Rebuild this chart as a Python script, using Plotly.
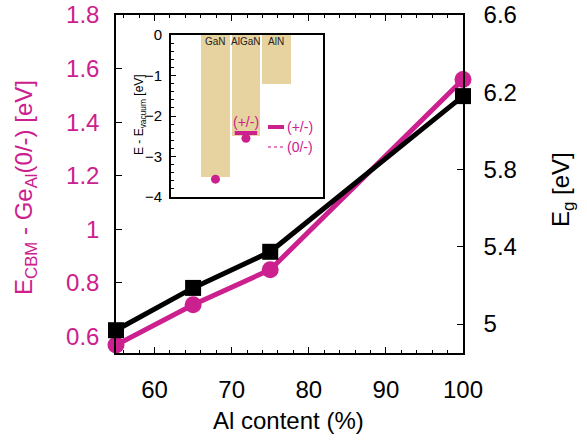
import plotly.graph_objects as go

# ---- main data ----
al_content = [55, 65, 75, 100]
e_cbm_minus_ge = [0.568, 0.718, 0.849, 1.559]   # left axis (magenta)
band_gap = [4.968, 5.187, 5.374, 6.18]            # right axis (black)

x_ticks = [60, 70, 80, 90, 100]
left_ticks = [0.6, 0.8, 1.0, 1.2, 1.4, 1.6, 1.8]
left_labels = ["0.6", "0.8", "1", "1.2", "1.4", "1.6", "1.8"]
right_ticks = [5.0, 5.4, 5.8, 6.2, 6.6]
right_labels = ["5", "5.4", "5.8", "6.2", "6.6"]

# ---- inset data ----
materials = ["GaN", "AlGaN", "AlN"]
mat_pos = [1, 2, 3]
cbm_vs_vacuum = [-3.5, -2.5, -1.2]
ge_level_pos = [1, 2]
ge_level_0m = [-3.56, -2.55]
ge_level_pm_pos = [2]
ge_level_pm = [-2.42]
inset_ticks = [0, -1, -2, -3, -4]

MAG = "#cc208e"
TAN = "#e6d3a0"
FONT = "Liberation Sans, Arial, sans-serif"

fig = go.Figure()

fig.add_trace(go.Scatter(
    x=al_content, y=e_cbm_minus_ge, mode="lines+markers",
    line=dict(color=MAG, width=5),
    marker=dict(symbol="circle", size=17, color=MAG),
    cliponaxis=False, xaxis="x", yaxis="y", showlegend=False))

fig.add_trace(go.Scatter(
    x=al_content, y=band_gap, mode="lines+markers",
    line=dict(color="black", width=5),
    marker=dict(symbol="square", size=16, color="black"),
    cliponaxis=False, xaxis="x", yaxis="y2", showlegend=False))

# inset bars
fig.add_trace(go.Bar(
    x=mat_pos, y=cbm_vs_vacuum, width=0.94, marker=dict(color=TAN, line=dict(width=0)),
    xaxis="x2", yaxis="y3", showlegend=False))

fig.add_trace(go.Scatter(
    x=ge_level_pos, y=ge_level_0m, mode="markers",
    marker=dict(symbol="circle", size=9, color=MAG),
    cliponaxis=False, xaxis="x2", yaxis="y3", showlegend=False))

fig.add_trace(go.Scatter(
    x=ge_level_pm_pos, y=ge_level_pm, mode="markers",
    marker=dict(symbol="line-ew", size=16, line=dict(color=MAG, width=4)),
    cliponaxis=False, xaxis="x2", yaxis="y3", showlegend=False))

annotations = []
for m, p in zip(materials, mat_pos):
    annotations.append(dict(x=p, y=0, xref="x2", yref="y3", text=m, showarrow=False,
                            yanchor="top", xanchor="center", yshift=1,
                            font=dict(size=10, color="#222", family=FONT)))
annotations.append(dict(x=ge_level_pm_pos[0], y=ge_level_pm[0], xref="x2", yref="y3",
                        text="(+/-)", showarrow=False, yanchor="bottom", yshift=1,
                        font=dict(size=14, color=MAG, family=FONT)))
# inset legend text
annotations.append(dict(x=(285 - 116) / 347, y=(353 - 127) / 338, xref="paper", yref="paper",
                        text="(+/-)", showarrow=False, xanchor="left", yanchor="middle",
                        font=dict(size=14, color=MAG, family=FONT)))
annotations.append(dict(x=(285 - 116) / 347, y=(353 - 147) / 338, xref="paper", yref="paper",
                        text="(0/-)", showarrow=False, xanchor="left", yanchor="middle",
                        font=dict(size=14, color=MAG, family=FONT)))
# inset y title
annotations.append(dict(x=(140 - 116) / 347, y=(353 - 115) / 338, xref="paper", yref="paper",
                        text="E - E<sub>vacuum</sub> [eV]", showarrow=False, textangle=-90,
                        xanchor="center", yanchor="middle",
                        font=dict(size=12, color="black", family=FONT)))
# axis titles
annotations.append(dict(x=(25 - 116) / 347, y=(353 - 188) / 338, xref="paper", yref="paper",
                        text="E<sub>CBM</sub> - Ge<sub>Al</sub>(0/-) [eV]", showarrow=False,
                        textangle=-90, xanchor="center", yanchor="middle",
                        font=dict(size=24, color=MAG, family=FONT)))
annotations.append(dict(x=(562 - 116) / 347, y=(353 - 190) / 338, xref="paper", yref="paper",
                        text="E<sub>g</sub> [eV]", showarrow=False,
                        textangle=-90, xanchor="center", yanchor="middle",
                        font=dict(size=24, color="black", family=FONT)))
annotations.append(dict(x=(288 - 116) / 347, y=(353 - 420) / 338, xref="paper", yref="paper",
                        text="Al content (%)", showarrow=False,
                        xanchor="center", yanchor="middle",
                        font=dict(size=24, color="black", family=FONT)))

shapes = [
    dict(type="line", xref="paper", yref="paper",
         x0=(268 - 116) / 347, x1=(284 - 116) / 347,
         y0=(353 - 127) / 338, y1=(353 - 127) / 338,
         line=dict(color=MAG, width=4)),
    dict(type="line", xref="paper", yref="paper",
         x0=(268 - 116) / 347, x1=(283 - 116) / 347,
         y0=(353 - 147) / 338, y1=(353 - 147) / 338,
         line=dict(color="#dd5aad", width=1.5, dash="dot")),
]

fig.update_layout(
    width=587, height=440,
    margin=dict(l=116, r=124, t=15, b=87),
    paper_bgcolor="white", plot_bgcolor="white",
    font=dict(family=FONT, size=24, color="black"),
    xaxis=dict(domain=[0, 1], range=[55, 100], tickvals=x_ticks, automargin=False,
               ticks="inside", ticklen=6, tickcolor="black", tickwidth=1,
               minor=dict(dtick=2, tick0=0, ticks="inside", ticklen=3, tickcolor="black"),
               showline=True, linecolor="black", linewidth=1.5, mirror="ticks",
               showgrid=False, zeroline=False, ticklabelstandoff=14,
               tickfont=dict(size=24, color="black")),
    yaxis=dict(range=[0.538, 1.8], tickvals=left_ticks, ticktext=left_labels, automargin=False,
               ticks="inside", ticklen=6, tickcolor="black",
               showline=True, linecolor="black", linewidth=1.5,
               showgrid=False, zeroline=False, ticklabelstandoff=10,
               tickfont=dict(size=24, color=MAG)),
    yaxis2=dict(range=[4.85, 6.6], tickvals=right_ticks, ticktext=right_labels,
                overlaying="y", side="right", anchor="x", automargin=False,
                ticks="inside", ticklen=6, tickcolor="black",
                showline=True, linecolor="black", linewidth=1.5,
                showgrid=False, zeroline=False, ticklabelstandoff=14,
                tickfont=dict(size=24, color="black")),
    xaxis2=dict(domain=[0.1585, 0.5965], range=[-0.46, 4.53], anchor="y3", automargin=False,
                showticklabels=False, ticks="", showline=True, linecolor="black",
                linewidth=2, mirror=True, showgrid=False, zeroline=False),
    yaxis3=dict(domain=[0.4615, 0.9408], range=[-4, 0], anchor="x2", automargin=False,
                tickvals=inset_ticks, ticks="inside", ticklen=5, tickcolor="black",
                minor=dict(dtick=0.2, tick0=0, ticks="inside", ticklen=3, tickcolor="black"),
                showline=True, linecolor="black", linewidth=2, mirror=True,
                showgrid=False, zeroline=False, ticklabelstandoff=4,
                tickfont=dict(size=15, color="black")),
    annotations=annotations, shapes=shapes,
    bargap=0,
)

fig.write_html("out.html")
